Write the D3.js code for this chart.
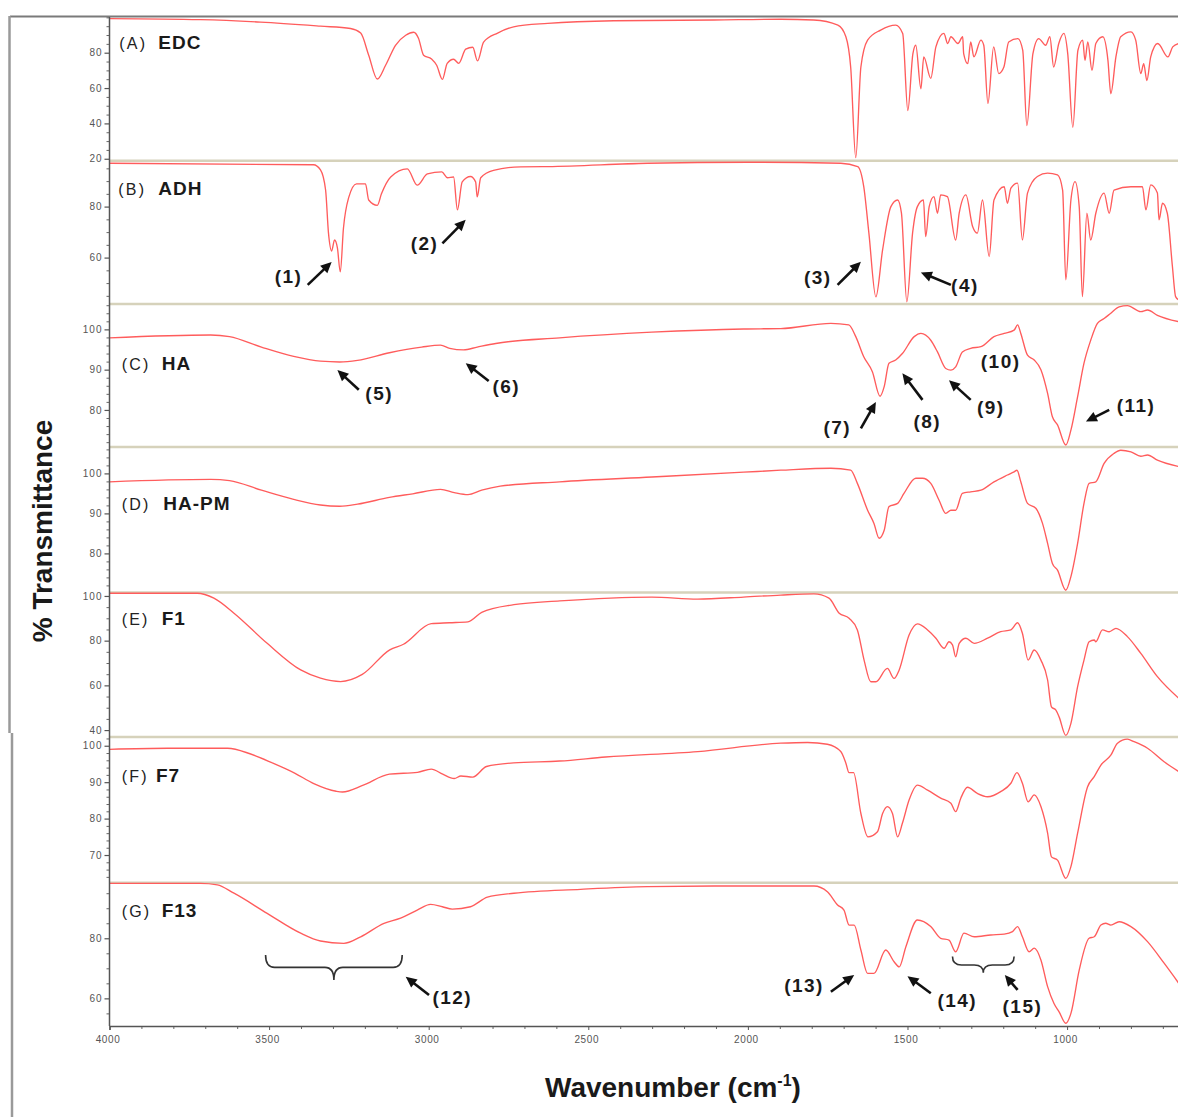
<!DOCTYPE html>
<html><head><meta charset="utf-8">
<script src="https://cdn.jsdelivr.net/npm/d3@7"></script>
<style>body{margin:0;background:#fff}svg{display:block;font-family:Arial,"Liberation Sans",sans-serif}</style>
</head><body><svg id="c" width="1178" height="1117"></svg>
<script>
// ---------- DATA ----------
const panelLetters = ["(A)","(B)","(C)","(D)","(E)","(F)","(G)"];
const panelNames = ["EDC","ADH","HA","HA-PM","F1","F7","F13"];
const yDomains = [[18.9,100.2],[41.8,98.0],[70.8,106.3],[70.2,106.6],[36.9,101.5],[62.4,102.4],[50.8,98.5]];
const yTickValues = [[20,40,60,80],[60,80],[80,90,100],[80,90,100],[40,60,80,100],[70,80,90,100],[60,80]];
const yMinorStep = [5,5,2,2,5,2,5];
const xTicks = [4000,3500,3000,2500,2000,1500,1000];
const xDomain = [4000,650];

const edc = [[4000,99.3],[3715,98.7],[3527,97.3],[3339,95.0],[3245,93.7],[3213,91.1],[3188,78.6],[3161,65.1],[3135,72.9],[3104,84.2],[3072,89.9],[3047,91.6],[3032,88.2],[3016,78.6],[2991,76.5],[2975,72.9],[2957,64.9],[2942,74.0],[2922,76.3],[2906,74.0],[2884,82.0],[2862,83.1],[2847,75.4],[2828,86.0],[2784,91.1],[2734,94.6],[2627,96.6],[2420,98.1],[2107,98.5],[1897,98.9],[1794,98.5],[1718,95.6],[1693,89.0],[1678,71.9],[1662,20.6],[1646,71.9],[1625,87.1],[1584,92.8],[1537,95.6],[1515,90.9],[1499,47.3],[1483,79.5],[1474,84.2],[1458,59.6],[1449,77.6],[1427,65.5],[1411,83.3],[1386,90.9],[1374,85.2],[1364,89.0],[1342,85.2],[1327,89.0],[1324,79.5],[1311,73.8],[1302,86.1],[1292,77.6],[1270,87.1],[1261,84.2],[1248,51.3],[1230,83.3],[1214,68.2],[1198,71.9],[1183,86.1],[1154,88.0],[1139,81.4],[1126,38.8],[1107,79.5],[1089,88.0],[1067,84.2],[1054,89.0],[1042,71.9],[1026,85.2],[1010,90.9],[998,79.5],[982,37.8],[966,81.4],[951,87.1],[944,75.7],[935,86.1],[922,70.0],[910,85.2],[888,89.0],[872,75.7],[863,56.8],[847,77.6],[832,89.0],[800,91.8],[785,87.1],[769,68.2],[760,73.8],[750,64.3],[738,77.6],[716,85.2],[684,77.6],[669,83.3],[650,85.2]];

const adh = [[4000,97.0],[3361,96.4],[3339,94.4],[3323,86.5],[3314,69.7],[3304,62.6],[3295,66.9],[3286,63.8],[3277,54.4],[3267,71.6],[3251,83.4],[3226,88.9],[3198,88.9],[3188,82.6],[3161,80.5],[3148,85.0],[3119,91.6],[3067,94.8],[3036,88.4],[3004,92.8],[2959,93.6],[2941,91.3],[2922,91.6],[2910,78.7],[2895,89.7],[2869,91.8],[2853,89.7],[2848,83.8],[2837,91.3],[2797,94.2],[2712,95.6],[2627,95.7],[2314,97.0],[2000,97.4],[1709,97.0],[1656,95.7],[1637,87.8],[1621,69.7],[1599,44.6],[1578,63.0],[1552,80.0],[1531,82.6],[1519,77.5],[1502,42.7],[1484,69.7],[1469,80.0],[1450,82.6],[1443,68.2],[1432,80.0],[1417,83.9],[1406,77.4],[1396,84.6],[1375,83.9],[1349,66.9],[1338,77.4],[1317,84.6],[1296,72.2],[1281,69.6],[1265,82.6],[1244,60.4],[1229,82.6],[1197,87.8],[1187,81.3],[1176,87.2],[1155,89.2],[1140,66.9],[1124,85.3],[1093,91.8],[1061,93.1],[1030,92.4],[1014,86.5],[1004,51.3],[988,82.6],[975,89.8],[962,80.0],[952,44.7],[938,77.4],[926,66.9],[910,77.4],[884,85.3],[868,77.4],[853,86.5],[800,87.8],[764,87.8],[753,78.7],[738,88.5],[717,85.3],[712,74.8],[701,81.3],[686,77.4],[670,56.5],[660,44.7],[650,43.4]];

const ha = [[4000,97.9],[3683,98.6],[3624,98.2],[3524,95.6],[3423,93.3],[3339,92.1],[3279,91.9],[3223,92.3],[3123,94.2],[3022,95.6],[2963,96.1],[2934,95.3],[2891,94.9],[2848,95.6],[2790,96.5],[2590,97.9],[2301,99.3],[2013,100.1],[1897,100.2],[1740,101.5],[1684,101.1],[1662,98.2],[1637,93.2],[1610,89.5],[1586,83.4],[1573,85.8],[1558,91.6],[1537,92.4],[1516,94.0],[1479,98.2],[1458,99.0],[1427,97.3],[1406,94.4],[1380,90.3],[1364,89.9],[1349,90.7],[1328,94.4],[1302,95.3],[1270,95.7],[1229,98.2],[1197,99.0],[1166,99.8],[1155,101.1],[1145,99.0],[1124,93.6],[1103,92.4],[1082,90.0],[1061,84.1],[1046,78.3],[1030,76.3],[1004,71.3],[988,75.0],[967,83.3],[947,91.6],[926,97.3],[905,101.5],[884,102.7],[863,104.0],[837,105.6],[811,105.9],[769,104.4],[748,104.8],[717,103.5],[650,101.9]];

const hapm = [[4000,97.9],[3683,98.5],[3624,98.2],[3524,95.8],[3423,93.5],[3339,92.1],[3279,91.8],[3223,92.3],[3123,94.0],[3050,94.9],[2963,96.0],[2920,95.2],[2877,94.7],[2834,95.8],[2776,96.8],[2590,97.9],[2301,99.1],[2013,100.3],[1897,100.8],[1740,101.3],[1678,100.8],[1657,97.5],[1625,90.8],[1605,87.5],[1589,83.8],[1573,85.8],[1558,91.7],[1531,92.5],[1511,95.0],[1474,98.8],[1453,98.8],[1427,97.5],[1401,93.3],[1380,90.0],[1364,90.8],[1349,90.8],[1328,95.0],[1302,95.4],[1270,95.8],[1229,97.9],[1187,99.6],[1166,100.4],[1157,100.8],[1145,97.9],[1124,92.5],[1098,91.3],[1077,87.5],[1061,82.5],[1046,77.5],[1030,75.8],[1004,70.8],[988,74.2],[967,82.5],[947,92.5],[931,97.5],[910,97.9],[884,102.5],[853,105.0],[832,105.8],[800,105.4],[769,104.3],[748,104.6],[717,103.3],[650,101.7]];

const f1 = [[4000,101.2],[3725,101.2],[3673,99.0],[3610,92.3],[3506,78.8],[3401,66.9],[3339,63.2],[3276,61.7],[3208,64.9],[3122,75.9],[3079,78.4],[2992,87.6],[2935,88.0],[2877,88.4],[2834,92.7],[2733,96.1],[2589,97.8],[2301,99.5],[2158,98.6],[2014,99.5],[1897,100.4],[1793,100.9],[1746,99.0],[1714,92.3],[1683,90.0],[1657,84.8],[1636,71.3],[1615,61.6],[1599,61.6],[1563,67.6],[1542,63.1],[1526,66.9],[1495,82.5],[1469,87.5],[1437,84.8],[1411,81.1],[1385,76.6],[1370,79.5],[1359,78.1],[1349,72.8],[1338,78.8],[1317,81.1],[1291,78.8],[1249,81.1],[1208,84.0],[1176,84.8],[1155,88.0],[1140,83.3],[1122,71.3],[1103,75.8],[1082,71.3],[1061,62.4],[1049,50.4],[1035,48.9],[1025,45.9],[1004,37.6],[988,43.0],[967,59.4],[947,71.3],[931,79.5],[915,80.3],[910,79.5],[889,84.8],[868,84.0],[847,85.5],[811,81.8],[769,74.3],[717,63.9],[650,54.2]];

const f7 = [[4000,99.0],[3818,99.3],[3630,99.3],[3560,97.8],[3490,95.3],[3420,92.5],[3360,89.6],[3290,87.5],[3270,87.3],[3207,89.1],[3123,92.2],[3035,92.7],[2992,93.6],[2956,92.2],[2920,91.0],[2899,91.7],[2862,91.4],[2819,94.3],[2734,95.3],[2590,95.8],[2446,96.9],[2157,98.4],[1897,100.7],[1813,100.9],[1751,100.4],[1709,98.4],[1693,95.2],[1683,92.6],[1669,92.6],[1646,81.4],[1624,75.0],[1594,76.4],[1578,81.4],[1563,83.3],[1547,81.4],[1531,75.0],[1516,78.7],[1495,85.1],[1469,89.2],[1437,87.8],[1396,85.6],[1364,84.2],[1349,81.9],[1333,85.6],[1312,88.6],[1281,86.9],[1249,86.0],[1208,87.4],[1176,89.7],[1157,92.6],[1140,89.7],[1122,84.6],[1103,86.5],[1082,83.3],[1061,76.0],[1049,69.5],[1030,68.6],[1004,63.6],[988,66.8],[967,76.0],[936,88.7],[915,91.5],[894,94.7],[863,97.4],[842,100.7],[811,101.8],[790,101.1],[748,99.3],[696,95.6],[650,92.9]];

const f13 = [[4000,98.3],[3715,98.3],[3662,97.8],[3610,95.0],[3506,88.3],[3401,81.7],[3339,79.1],[3266,78.3],[3213,80.5],[3140,85.0],[3088,86.7],[3036,89.4],[2994,91.3],[2957,90.5],[2926,89.7],[2869,90.5],[2816,93.7],[2733,95.0],[2524,96.3],[2315,97.2],[2106,97.4],[1939,97.4],[1793,97.4],[1751,95.5],[1719,91.1],[1699,89.4],[1683,84.4],[1667,84.4],[1646,76.1],[1625,68.3],[1605,68.3],[1568,76.1],[1542,72.2],[1526,70.5],[1505,77.2],[1469,86.1],[1427,83.9],[1396,80.0],[1370,79.4],[1349,75.5],[1323,81.7],[1291,80.5],[1239,81.1],[1197,81.4],[1171,82.2],[1155,83.9],[1140,80.5],[1119,75.5],[1103,76.7],[1082,72.8],[1061,63.9],[1041,58.3],[1025,55.5],[1004,51.7],[988,55.0],[962,69.4],[931,80.0],[915,80.5],[894,84.4],[879,85.0],[863,84.4],[837,85.5],[800,83.9],[748,78.9],[696,71.7],[650,65.0]];

const spectra = [edc, adh, ha, hapm, f1, f7, f13];

// annotations: panel, label, label position (wavenumber, %T), arrow from -> to
const annotations = [
  {p:1, t:"(1)",  lw:3439, lv:52.8, a:[3379,49.3,3304,58.3]},
  {p:1, t:"(2)",  lw:3013, lv:65.8, a:[2957,65.6,2884,74.8]},
  {p:1, t:"(3)",  lw:1781, lv:52.4, a:[1719,49.3,1646,58.4]},
  {p:1, t:"(4)",  lw:1320, lv:49.3, a:[1364,49.3,1458,54.2]},
  {p:2, t:"(5)",  lw:3155, lv:84.1, a:[3219,85.0,3286,89.9]},
  {p:2, t:"(6)",  lw:2757, lv:85.8, a:[2812,87.2,2884,91.6]},
  {p:2, t:"(7)",  lw:1720, lv:75.8, a:[1646,75.4,1599,82.0]},
  {p:2, t:"(8)",  lw:1438, lv:77.1, a:[1453,82.5,1516,89.1]},
  {p:2, t:"(9)",  lw:1239, lv:80.8, a:[1302,82.5,1370,87.4]},
  {p:2, t:"(10)", lw:1208, lv:92.0, a:null},
  {p:2, t:"(11)", lw:784,  lv:81.2, a:[868,80.0,941,77.1]},
  {p:6, t:"(12)", lw:2926, lv:60.3, a:[2999,61.1,3072,67.2]},
  {p:6, t:"(13)", lw:1824, lv:64.4, a:[1740,62.2,1667,67.8]},
  {p:6, t:"(14)", lw:1344, lv:59.4, a:[1427,61.7,1500,67.4]},
  {p:6, t:"(15)", lw:1140, lv:57.4, a:[1155,62.8,1195,67.8]}
];
// braces: panel, left/right wavenumber, end / bar / tip %T
const braces = [
  {p:6, w1:3511, w2:3083, vEnd:74.4, vBar:70.3, vTip:66.1},
  {p:6, w1:1359, w2:1166, vEnd:73.9, vBar:71.1, vTip:68.5}
];

// ---------- LAYOUT ----------
const panelEdges = [17,160.7,304,447,592.6,737,882.7,1026];
const labelBaseline = [49,195,370,510,625,781.5,916.5];
const letterX = [119.3,118.3,121.7,121.7,121.7,121.7,121.7];
const nameX = [158.3,158.3,161.7,163.3,161.7,156,161.7];
const plotLeft = 109.5, plotRight = 1178.8;

const svg = d3.select("#c");
const x = d3.scaleLinear().domain(xDomain).range([plotLeft, plotRight]);
const yScales = yDomains.map((d,i) => d3.scaleLinear().domain(d).range([panelEdges[i+1], panelEdges[i]]));

// outer frame
svg.append("line").attr("x1",10).attr("x2",1178).attr("y1",16.5).attr("y2",16.5).attr("stroke","#7a7a7a").attr("stroke-width",2);
svg.append("line").attr("x1",9.5).attr("x2",9.5).attr("y1",16).attr("y2",733).attr("stroke","#9a9a9a").attr("stroke-width",2.5);
svg.append("line").attr("x1",12).attr("x2",12).attr("y1",733).attr("y2",1117).attr("stroke","#9a9a9a").attr("stroke-width",2.5);

// separators
panelEdges.slice(1,7).forEach(e => {
  svg.append("line").attr("x1",plotLeft).attr("x2",1178).attr("y1",e).attr("y2",e)
    .attr("stroke","#d6d2bb").attr("stroke-width",2.5);
});

// clip paths
const defs = svg.append("defs");
panelEdges.slice(0,7).forEach((e,i) => {
  defs.append("clipPath").attr("id","clip"+i).append("rect")
    .attr("x",plotLeft).attr("y",e-1).attr("width",plotRight-plotLeft).attr("height",panelEdges[i+1]-e+2);
});

// spectra
spectra.forEach((data,i) => {
  const y = yScales[i];
  const line = d3.line().x(d => x(d[0])).y(d => y(d[1])).curve(d3.curveMonotoneX);
  svg.append("path").datum(data).attr("d", line)
    .attr("clip-path","url(#clip"+i+")")
    .attr("fill","none").attr("stroke","#ff5c5c").attr("stroke-width",1.35)
    .attr("stroke-linejoin","round");
});

// y axes
yScales.forEach((y,i) => {
  const dom = yDomains[i];
  const step = yMinorStep[i];
  const minor = d3.range(Math.ceil(dom[0]/step)*step, dom[1], step).filter(v => !yTickValues[i].includes(v));
  svg.append("g").attr("transform",`translate(${plotLeft},0)`)
    .call(d3.axisLeft(y).tickValues(minor).tickSize(3).tickFormat(""))
    .call(g => g.select(".domain").remove())
    .call(g => g.selectAll("line").attr("stroke","#666"));
  svg.append("g").attr("transform",`translate(${plotLeft},0)`)
    .call(d3.axisLeft(y).tickValues(yTickValues[i]).tickSize(5).tickPadding(2))
    .call(g => g.select(".domain").remove())
    .call(g => g.selectAll("line").attr("stroke","#555").attr("stroke-width",1.2))
    .call(g => g.selectAll("text").attr("font-size",10).attr("fill","#555")
      .attr("font-family","Arial, 'Liberation Sans', sans-serif").attr("letter-spacing",1));
});
svg.append("line").attr("x1",plotLeft).attr("x2",plotLeft).attr("y1",17).attr("y2",1026)
  .attr("stroke","#555").attr("stroke-width",1.5);

// x axis
const xMinor = d3.range(3900, 650, -100).filter(v => !xTicks.includes(v));
svg.append("g").attr("transform",`translate(0,${panelEdges[7]})`)
  .call(d3.axisBottom(x).tickValues(xMinor).tickSize(3).tickFormat(""))
  .call(g => g.select(".domain").remove())
  .call(g => g.selectAll("line").attr("stroke","#666"));
svg.append("g").attr("transform",`translate(0,${panelEdges[7]})`)
  .call(d3.axisBottom(x).tickValues(xTicks).tickSize(4).tickPadding(6).tickFormat(d3.format("d")))
  .call(g => g.select(".domain").attr("stroke","#555").attr("stroke-width",1.5))
  .call(g => g.selectAll("line").attr("stroke","#555"))
  .call(g => g.selectAll("text").attr("font-size",10).attr("fill","#555").attr("dx",-2)
    .attr("font-family","Arial, 'Liberation Sans', sans-serif").attr("letter-spacing",0.6));

// panel labels
panelLetters.forEach((l,i) => {
  svg.append("text").attr("x",letterX[i]).attr("y",labelBaseline[i]).text(l)
    .attr("font-size",16).attr("fill","#222").attr("letter-spacing",2.2);
  svg.append("text").attr("x",nameX[i]).attr("y",labelBaseline[i]).text(panelNames[i])
    .attr("font-size",19).attr("font-weight","bold").attr("fill","#1a1a1a").attr("letter-spacing",1);
});

// annotations
function arrow(x1,y1,x2,y2){
  const dx = x2-x1, dy = y2-y1, L = Math.hypot(dx,dy), ux = dx/L, uy = dy/L;
  const hl = 11, hw = 5.2;
  const bx = x2-ux*hl, by = y2-uy*hl;
  svg.append("line").attr("x1",x1).attr("y1",y1).attr("x2",bx+ux*1).attr("y2",by+uy*1)
    .attr("stroke","#111").attr("stroke-width",2.6);
  svg.append("path").attr("d",`M${x2},${y2}L${bx-uy*hw},${by+ux*hw}L${bx+uy*hw},${by-ux*hw}Z`).attr("fill","#111");
}
annotations.forEach(a => {
  const y = yScales[a.p];
  svg.append("text").attr("x",x(a.lw)).attr("y",y(a.lv)).attr("dy","0.36em")
    .attr("text-anchor","middle").attr("font-size",19).attr("font-weight","bold")
    .attr("letter-spacing",1.5).attr("fill","#1a1a1a").text(a.t);
  if (a.a) arrow(x(a.a[0]), y(a.a[1]), x(a.a[2]), y(a.a[3]));
});
braces.forEach(b => {
  const y = yScales[b.p];
  const xl = x(b.w1), xr = x(b.w2), xc = (xl+xr)/2, ye = y(b.vEnd), ym = y(b.vBar), yt = y(b.vTip);
  const r = Math.min(9, (xr-xl)/6);
  const d = `M${xl},${ye} Q${xl},${ym} ${xl+r},${ym} L${xc-r},${ym} Q${xc},${ym} ${xc},${yt} Q${xc},${ym} ${xc+r},${ym} L${xr-r},${ym} Q${xr},${ym} ${xr},${ye}`;
  svg.append("path").attr("d",d).attr("fill","none").attr("stroke","#333").attr("stroke-width",1.6);
});

// axis titles
svg.append("text").attr("transform","translate(52,531) rotate(-90)").attr("text-anchor","middle")
  .attr("font-size",28).attr("font-weight","bold").attr("fill","#1a1a1a").text("% Transmittance");
const xt = svg.append("text").attr("x",545).attr("y",1097).attr("font-size",28).attr("font-weight","bold").attr("fill","#1a1a1a");
xt.append("tspan").text("Wavenumber (cm");
xt.append("tspan").attr("font-size",16).attr("dy",-11).text("-1");
xt.append("tspan").attr("dy",11).text(")");
</script></body></html>
